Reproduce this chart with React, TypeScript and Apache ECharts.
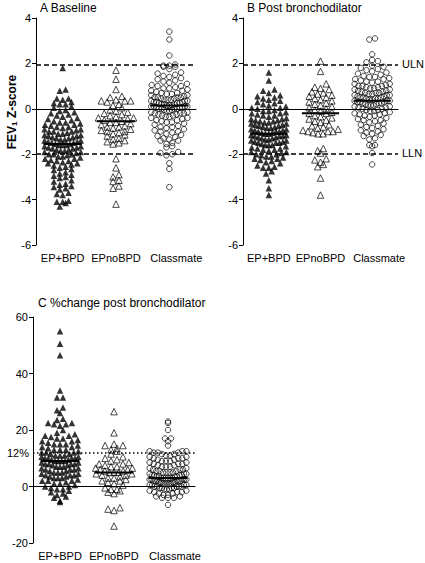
import React, { useEffect, useRef } from "react";
import * as echarts from "echarts";

const categories = ["EP+BPD", "EPnoBPD", "Classmate"];
const panelTitles = ["A Baseline", "B Post bronchodilator", "C %change post bronchodilator"];
const normalLimits = [1.96, -1.96];
const limitLabels = ["ULN", "LLN"];
const bdThreshold = 12;

// Panel A: baseline FEV1 z-score
const aEpBpd = [
  1.8, 0.85, 0.8, 0.45, 0.45, 0.4, 0.3, 0.25, 0.2, 0.2, 0.1, 0.05,
  -0.05, -0.1, -0.15, -0.2, -0.25, -0.3, -0.35, -0.4, -0.45, -0.5,
  -0.55, -0.6, -0.6, -0.65, -0.7, -0.75, -0.8, -0.85, -0.9, -0.95,
  -1.0, -1.0, -1.05, -1.1, -1.1, -1.15, -1.2, -1.25, -1.3, -1.3, -1.35, -1.4,
  -1.4, -1.45, -1.5, -1.5, -1.55, -1.55, -1.6, -1.6, -1.65, -1.7, -1.7, -1.75,
  -1.8, -1.8, -1.85, -1.9, -1.9, -1.95, -2.0, -2.0, -2.05, -2.1, -2.1, -2.15,
  -2.2, -2.2, -2.25, -2.3, -2.35, -2.4, -2.4, -2.45, -2.5, -2.55,
  -2.6, -2.65, -2.7, -2.8, -2.85, -2.9, -2.95, -3.0,
  -3.05, -3.15, -3.2, -3.3, -3.35, -3.4, -3.45, -3.5,
  -3.55, -3.7, -3.75, -3.8, -4.05, -4.1, -4.1, -4.15, -4.3,
  -0.7, -0.9, -1.0, -1.2, -1.25, -1.45, -1.6, -1.75, -1.85, -2.0, -2.3, -1.15, -1.35, -0.8, -1.65,
];
const aEpNoBpd = [
  1.7, 1.3, 0.85, 0.55, 0.5, 0.4, 0.35, 0.35, 0.35, 0.3, 0.2, 0.15, 0.05,
  -0.05, -0.1, -0.15, -0.2, -0.25, -0.3, -0.35, -0.4, -0.45, -0.5, -0.55,
  -0.6, -0.65, -0.7, -0.75, -0.8, -0.85, -0.9, -0.95, -1.0, -1.05, -1.1,
  -1.15, -1.2, -1.3, -1.35, -1.4, -1.45, -1.5, -1.55, -0.4, -0.8, -1.0, -0.6,
  -2.2, -2.6, -2.9, -3.0, -3.15, -3.2, -3.4, -3.5, -4.2,
];
const aClassmate = [
  3.4, 3.05, 2.35, 1.95, 1.9, 1.9, 1.85, 1.85, 1.75, 1.6, 1.55, 1.5, 1.45, 1.4,
  1.35, 1.3, 1.25, 1.2, 1.15, 1.1, 1.05, 1.0, 1.0, 0.95, 0.9, 0.9, 0.85, 0.8,
  0.8, 0.75, 0.7, 0.7, 0.65, 0.6, 0.6, 0.55, 0.5, 0.5, 0.5, 0.45, 0.45, 0.4,
  0.4, 0.35, 0.35, 0.3, 0.3, 0.3, 0.25, 0.25, 0.2, 0.2, 0.2, 0.15, 0.15, 0.15,
  0.1, 0.1, 0.1, 0.05, 0.05, 0.0, 0.0, 0.0, -0.05, -0.05, -0.1, -0.1, -0.15,
  -0.15, -0.2, -0.2, -0.25, -0.25, -0.3, -0.3, -0.35, -0.4, -0.4, -0.45, -0.5,
  -0.5, -0.55, -0.6, -0.6, -0.65, -0.7, -0.75, -0.8, -0.8, -0.85, -0.9, -0.95,
  -1.0, -1.0, -1.05, -1.1, -1.15, -1.2, -1.25, -1.3, -1.35, -1.4, -1.4, -1.5,
  -1.55, -1.65, -1.7, -1.9, -1.95, -2.0, -2.05, -2.4, -2.65, -3.45,
  0.65, 0.35, 0.05, -0.2, 0.25, 0.5, 0.0, 0.1, 0.4, -0.35,
];

// Panel B: post bronchodilator FEV1 z-score
const bEpBpd = [
  1.6, 1.25, 0.85, 0.8, 0.7, 0.6, 0.55, 0.5, 0.45, 0.4, 0.35, 0.3, 0.25, 0.2,
  0.15, 0.1, 0.05, 0.0, -0.05, -0.1, -0.15, -0.2, -0.25, -0.3, -0.35, -0.4,
  -0.45, -0.5, -0.5, -0.55, -0.6, -0.6, -0.65, -0.7, -0.7, -0.75, -0.8, -0.8,
  -0.85, -0.9, -0.9, -0.95, -1.0, -1.0, -1.05, -1.05, -1.1, -1.1, -1.15, -1.15,
  -1.2, -1.2, -1.25, -1.3, -1.3, -1.35, -1.4, -1.4, -1.45, -1.5, -1.5, -1.55,
  -1.6, -1.6, -1.65, -1.7, -1.75, -1.8, -1.8, -1.85, -1.9, -1.95, -2.0, -2.0,
  -2.05, -2.1, -2.15, -2.2, -2.2, -2.25, -2.3, -2.35, -2.4, -2.5, -2.55, -2.6,
  -2.6, -2.75, -2.85, -3.15, -3.5, -3.8,
  -0.3, -0.65, -0.95, -1.25, -1.45, -1.75, -2.1, -0.1, -0.45, -0.85, -1.35,
  -1.9, 0.05, -0.2, -1.0, -1.6, -0.55, -1.2, -0.75, -1.5,
];
const bEpNoBpd = [
  2.1, 1.65, 1.1, 0.95, 0.9, 0.85, 0.75, 0.7, 0.65, 0.6, 0.55, 0.5, 0.45, 0.4,
  0.35, 0.3, 0.25, 0.2, 0.15, 0.1, 0.05, 0.0, -0.05, -0.1, -0.15, -0.2, -0.2,
  -0.3, -0.35, -0.4, -0.45, -0.5, -0.55, -0.6, -0.7, -0.75, -0.8, -0.85, -0.9,
  -0.95, -1.0, -1.0, -1.05, -1.1, -1.1, -1.0, -1.75, -1.85, -1.95, -2.2, -2.25,
  -2.35, -2.45, -2.55, -3.05, -3.8,
];
const bClassmate = [
  3.1, 3.05, 2.4, 2.15, 2.1, 2.05, 1.9, 1.85, 1.8, 1.75, 1.7, 1.65, 1.6, 1.55,
  1.5, 1.45, 1.4, 1.4, 1.35, 1.3, 1.3, 1.25, 1.2, 1.2, 1.15, 1.1, 1.1, 1.05,
  1.0, 1.0, 0.95, 0.95, 0.9, 0.9, 0.85, 0.8, 0.8, 0.75, 0.75, 0.7, 0.7, 0.65,
  0.6, 0.6, 0.55, 0.55, 0.5, 0.5, 0.45, 0.45, 0.4, 0.4, 0.35, 0.35, 0.3, 0.3,
  0.25, 0.25, 0.2, 0.2, 0.15, 0.15, 0.1, 0.1, 0.05, 0.0, 0.0, -0.05, -0.1,
  -0.1, -0.15, -0.2, -0.2, -0.25, -0.3, -0.3, -0.35, -0.4, -0.45, -0.5, -0.5,
  -0.55, -0.6, -0.65, -0.7, -0.75, -0.8, -0.85, -0.9, -0.95, -1.0, -1.05, -1.1,
  -1.15, -1.2, -1.3, -1.35, -1.6, -1.6, -1.65, -1.95, -2.45,
  0.85, 0.65, 0.45, 0.25, 0.05, -0.05, 0.5, 0.3, 0.7, 1.0, 0.15, 0.35, -0.25, 0.6,
];

// Panel C: % change post bronchodilator
const cEpBpd = [
  55, 50.5, 46.5, 34, 31.5, 31.5, 28, 27, 26, 24, 23.5, 22.5, 22.5, 22, 22,
  21.5, 20, 19, 18.5, 18, 18, 17.5, 17, 17, 16.5, 16, 16, 15.5, 15, 15, 14.5,
  14, 14, 13.5, 13, 13, 12.5, 12, 12, 11.5, 11.5, 11, 11, 10.5, 10.5, 10, 10,
  10, 9.5, 9.5, 9, 9, 9, 8.5, 8.5, 8, 8, 8, 7.5, 7.5, 7, 7, 6.5, 6.5, 6, 6,
  5.5, 5.5, 5, 5, 4.5, 4.5, 4, 4, 3.5, 3.5, 3, 3, 2.5, 2, 2, 1.5, 1, 1, 0.5,
  0, 0, -0.5, -1, -1, -1.5, -2, -2.5, -3, -3.5, -4, -5, -5.5,
  12, 10, 8, 6, 9, 11, 7, 5, 13, 3, 4, 15, 2,
];
const cEpNoBpd = [
  26.5, 19, 15, 14.5, 14.5, 13.5, 13, 12.5, 11.5, 10.5, 10, 9.5, 9, 8.5, 8, 8,
  7.5, 7, 7, 6.5, 6, 6, 5.5, 5.5, 5, 5, 4.5, 4, 4, 3.5, 3, 3, 2.5, 2, 1.5, 1,
  0.5, -0.5, -1, -1, -1.5, -2, -2.5, -7.5, -8, -8.5, -14, 6.5, 4.5, 2, 5,
];
const cClassmate = [
  23, 22.5, 20, 17, 17, 16, 14.5, 12.5, 12.5, 12.5, 12, 12, 12, 11.5, 11.5, 11,
  11, 10.5, 10.5, 10, 10, 10, 9.5, 9.5, 9, 9, 9, 8.5, 8.5, 8, 8, 8, 7.5, 7.5,
  7, 7, 7, 6.5, 6.5, 6, 6, 6, 5.5, 5.5, 5.5, 5, 5, 5, 5, 4.5, 4.5, 4.5, 4, 4,
  4, 4, 3.5, 3.5, 3.5, 3.5, 3, 3, 3, 3, 3, 2.5, 2.5, 2.5, 2.5, 2, 2, 2, 2, 1.5,
  1.5, 1.5, 1, 1, 1, 1, 0.5, 0.5, 0.5, 0, 0, 0, 0, -0.5, -0.5, -0.5, -1, -1,
  -1, -1.5, -1.5, -2, -2, -2, -2.5, -2.5, -3, -3, -3.5, -3.5, -4, -4, -4, -6.5,
  1, 2, 0.5, -0.5, 1.5, 2.5, 3, 0, 2,
];

const centralA = [-1.55, -0.55, 0.15];
const centralB = [-1.1, -0.2, 0.35];
const centralC = [9, 5, 3];

const FONT = '"Liberation Sans", Arial, Helvetica, sans-serif';

function swarm(values: number[], center: number, bin: number, step: number, maxHalf: number) {
  const bins = new Map<number, number[]>();
  values.forEach((v) => {
    const k = Math.round(v / bin);
    if (!bins.has(k)) bins.set(k, []);
    bins.get(k)!.push(v);
  });
  const out: number[][] = [];
  bins.forEach((arr) => {
    const n = arr.length;
    const s = n > 1 ? Math.min(step, (2 * maxHalf) / (n - 1)) : 0;
    const sorted = [...arr].sort((a, b) => a - b);
    const slots: number[] = [];
    for (let i = 0; i < n; i++) slots.push((i - (n - 1) / 2) * s);
    const order = slots
      .map((o, i) => ({ o, i }))
      .sort((p, q) => Math.abs(p.o) - Math.abs(q.o) || p.o - q.o);
    sorted.forEach((v, i) => out.push([center + order[i].o, v]));
  });
  return out;
}

export default function App() {
  const ref = useRef<HTMLDivElement>(null);
  useEffect(() => {
    if (!ref.current) return;
    const chart = echarts.init(ref.current, undefined, { renderer: "svg" });

    const panels = [
      { data: [aEpBpd, aEpNoBpd, aClassmate], central: centralA, grid: { left: 36, top: 18, width: 160, height: 227 }, min: -6, max: 4, interval: 2, bin: 0.25 },
      { data: [bEpBpd, bEpNoBpd, bClassmate], central: centralB, grid: { left: 243, top: 18, width: 155, height: 227 }, min: -6, max: 4, interval: 2, bin: 0.25 },
      { data: [cEpBpd, cEpNoBpd, cClassmate], central: centralC, grid: { left: 33, top: 317, width: 162, height: 226 }, min: -20, max: 60, interval: 20, bin: 2 },
    ];

    const axisLine = { show: true, lineStyle: { color: "#000", width: 1 } };
    const xAxes: any[] = [];
    const yAxes: any[] = [];
    panels.forEach((p, i) => {
      xAxes.push({
        type: "category", gridIndex: i, data: categories, boundaryGap: true,
        axisLine, axisTick: { show: false },
        axisLabel: {
          color: "#000", fontFamily: FONT, fontSize: 11, margin: 7, interval: 0,
          formatter: (v: string, idx: number) => (idx === 2 ? `{c|${v}}` : `{n|${v}}`),
          rich: {
            n: { color: "#000", fontFamily: FONT, fontSize: 11 },
            c: { color: "#000", fontFamily: FONT, fontSize: 11, padding: [0, 0, 0, 14] },
          },
        },
      });
    });
    panels.forEach((p, i) => {
      xAxes.push({ type: "value", gridIndex: i, min: 0, max: 3, show: false });
      yAxes.push({
        type: "value", gridIndex: i, min: p.min, max: p.max, interval: p.interval,
        axisLine, axisTick: { show: true, length: 4, lineStyle: { color: "#000" } },
        splitLine: { show: false },
        axisLabel: { color: "#000", fontFamily: FONT, fontSize: 11, margin: 5 },
      });
    });

    const symbols = [
      { symbol: "triangle", size: 6.5, itemStyle: { color: "#000", borderColor: "#000", borderWidth: 0 } },
      { symbol: "triangle", size: 6.5, itemStyle: { color: "rgba(255,255,255,0)", borderColor: "#000", borderWidth: 0.9 } },
      { symbol: "circle", size: 5.5, itemStyle: { color: "rgba(255,255,255,0)", borderColor: "#000", borderWidth: 0.9 } },
    ];

    const series: any[] = [];
    panels.forEach((p, pi) => {
      p.data.forEach((vals, gi) => {
        const s: any = {
          type: "scatter", xAxisIndex: 3 + pi, yAxisIndex: pi,
          symbol: symbols[gi].symbol, symbolSize: symbols[gi].size,
          itemStyle: symbols[gi].itemStyle,
          data: swarm(vals, gi + 0.5, p.bin, 0.11, 0.34),
          silent: true,
        };
        if (gi === 0) {
          if (pi < 2) {
            s.markLine = {
              silent: true, symbol: "none",
              lineStyle: { color: "#000", type: [5, 3], width: 1.5 },
              label: pi === 1
                ? { show: true, position: "end", distance: 4, color: "#000", fontFamily: FONT, fontSize: 11, formatter: (d: any) => limitLabels[d.dataIndex] }
                : { show: false },
              data: normalLimits.map((v) => ({ yAxis: v })),
            };
          } else {
            s.markLine = {
              silent: true, symbol: "none",
              lineStyle: { color: "#000", type: [1.5, 2.5], width: 1.5 },
              label: { show: true, position: "start", distance: 4, color: "#000", fontFamily: FONT, fontSize: 11, formatter: bdThreshold + "%" },
              data: [{ yAxis: bdThreshold }],
            };
          }
        }
        series.push(s);
        const c = p.central[gi];
        series.push({
          type: "line", xAxisIndex: 3 + pi, yAxisIndex: pi, symbol: "none", z: 5, silent: true,
          lineStyle: { color: "#000", width: 2 },
          data: [[gi + 0.5 - 0.36, c], [gi + 0.5 + 0.36, c]],
        });
      });
    });

    chart.setOption({
      animation: false,
      backgroundColor: "#fff",
      grid: panels.map((p) => ({ ...p.grid, containLabel: false })),
      xAxis: xAxes,
      yAxis: yAxes,
      series,
      graphic: [
        { type: "text", left: 40, top: 2, style: { text: panelTitles[0], font: `12px ${FONT}`, fill: "#000" } },
        { type: "text", left: 247, top: 2, style: { text: panelTitles[1], font: `12px ${FONT}`, fill: "#000" } },
        { type: "text", left: 38, top: 297, style: { text: panelTitles[2], font: `12px ${FONT}`, fill: "#000" } },
        {
          type: "text", x: 12, y: 112, rotation: Math.PI / 2,
          style: {
            text: "{a|FEV}{s|1}{a| Z-score}",
            align: "center", verticalAlign: "middle",
            rich: {
              a: { fontFamily: FONT, fontSize: 12, fontWeight: "bold", fill: "#000" },
              s: { fontFamily: FONT, fontSize: 8, fontWeight: "bold", fill: "#000", padding: [5, 0, 0, 0] },
            },
          },
        },
      ],
    });
    return () => chart.dispose();
  }, []);
  return <div ref={ref} style={{ width: 425, height: 563, position: "absolute", left: 0, top: 0 }} />;
}
